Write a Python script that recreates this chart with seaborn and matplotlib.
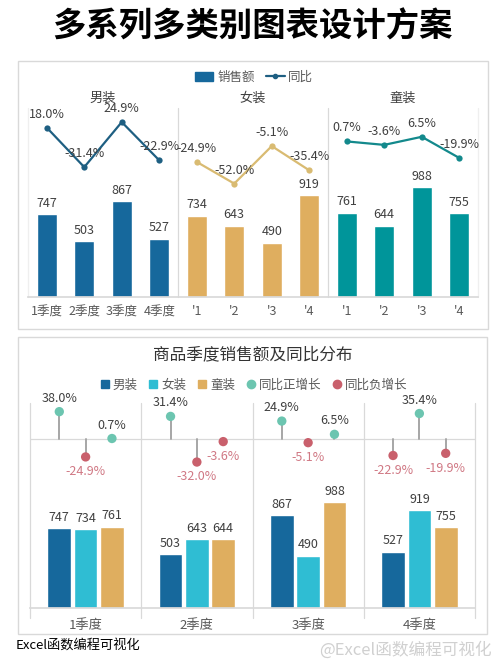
import numpy as np
import pandas as pd
import matplotlib
matplotlib.use("Agg")
import matplotlib.pyplot as plt
from matplotlib.patches import Rectangle, Patch
from matplotlib.lines import Line2D
import seaborn as sns

sns.set_theme(style="white")
plt.rcParams['font.family'] = ['Noto Sans CJK SC', 'DejaVu Sans']
plt.rcParams['axes.unicode_minus'] = False

# ---- data ----
categories = ["男装", "女装", "童装"]
quarters = ["1季度", "2季度", "3季度", "4季度"]
sales_men = [747, 503, 867, 527]
sales_women = [734, 643, 490, 919]
sales_kids = [761, 644, 988, 755]
yoy_men = [18.0, -31.4, 24.9, -22.9]
yoy_women = [-24.9, -52.0, -5.1, -35.4]
yoy_kids = [0.7, -3.6, 6.5, -19.9]
top_ticklabels = ["1季度", "2季度", "3季度", "4季度", "'1", "'2", "'3", "'4", "'1", "'2", "'3", "'4"]
# lollipop values as printed in the lower chart (quarter x category)
lolli_men = [38.0, 31.4, 24.9, -22.9]
lolli_women = [-24.9, -32.0, -5.1, 35.4]
lolli_kids = [0.7, -3.6, 6.5, -19.9]

bar_top_colors = {"男装": "#16689C", "女装": "#DFAE5F", "童装": "#00959A"}
line_colors = {"男装": "#1E5F82", "女装": "#D9BB72", "童装": "#13898C"}
bar_bot_colors = {"男装": "#16689C", "女装": "#2FBDD3", "童装": "#DFAE5F"}
pos_col, neg_col, neg_txt = "#6CC5B0", "#C9606C", "#D07884"
grid_col = "#D9D9D9"
txt_col = "#404040"

W, H = 500, 667
fig = plt.figure(figsize=(W / 100, H / 100), dpi=100)

def fx(px):
    return px / W

def fy(py):
    return 1 - py / H

# title
fig.text(0.505, fy(27), "多系列多类别图表设计方案", ha="center", va="center",
         fontsize=24, fontweight="bold", color="black")

# panel boxes
fig.patches.append(Rectangle((fx(18), fy(329)), fx(470), 268 / H, transform=fig.transFigure,
                             fill=False, edgecolor=grid_col, lw=1))
fig.patches.append(Rectangle((fx(18), fy(634)), fx(469), 297 / H, transform=fig.transFigure,
                             fill=False, edgecolor=grid_col, lw=1))

# ================= top chart =================
sales_all = sales_men + sales_women + sales_kids
yoy_all = {"男装": yoy_men, "女装": yoy_women, "童装": yoy_kids}
slots = [f"{c}-{i}" for c in categories for i in range(4)]
df_top = pd.DataFrame({"slot": slots, "sales": sales_all,
                       "cat": [c for c in categories for _ in range(4)]})

ax = fig.add_axes([fx(28), fy(297), fx(450), 199 / H])
sns.barplot(data=df_top, x="slot", y="sales", hue="cat", palette=bar_top_colors,
            dodge=False, width=0.54, legend=False, ax=ax, saturation=1)
ax.set_xlim(-0.5, 11.5)
ax.set_ylim(0, 1793)
for i, v in enumerate(sales_all):
    ax.annotate(f"{v}", (i, v), xytext=(0, 3), textcoords="offset points",
                ha="center", va="bottom", fontsize=9, color=txt_col)
ax.set_xticks(range(12))
ax.set_xticklabels(top_ticklabels, fontsize=9, color="#595959")
ax.tick_params(axis="x", length=0, pad=6)
ax.set_yticks([])
ax.set_xlabel("")
ax.set_ylabel("")
for s in ["top", "left", "right"]:
    ax.spines[s].set_visible(False)
ax.spines["bottom"].set_color(grid_col)
for xs in [3.5, 7.5]:
    ax.plot([xs, xs], [0, 1700], color=grid_col, lw=0.9, clip_on=False)
for xs in [-0.5, 11.5]:
    ax.plot([xs, xs], [0, 1700], color="#EFEFEF", lw=0.9, clip_on=False)

ax2 = ax.twinx()
ax2.set_ylim(-193.75, 55)
for k, c in enumerate(categories):
    xs = np.arange(4) + 4 * k
    sns.lineplot(x=xs, y=yoy_all[c], color=line_colors[c], lw=1.6, marker="o",
                 markersize=4.5, markeredgewidth=0, ax=ax2)
    for x, v in zip(xs, yoy_all[c]):
        ax2.annotate(f"{v:.1f}%", (x, v), xytext=(0, 5), textcoords="offset points",
                     ha="center", va="bottom", fontsize=9, color=txt_col)
    ax2.text(1.5 + 4 * k, 55, c, ha="center", va="center", fontsize=9.5, color=txt_col)
ax2.set_yticks([])
for s in ax2.spines.values():
    s.set_visible(False)

leg_handles = [Patch(color=bar_top_colors["男装"]),
               Line2D([0], [0], color=line_colors["男装"], lw=1.6, marker="o", markersize=3)]
fig.legend(leg_handles, ["销售额", "同比"], loc="center", bbox_to_anchor=(0.508, fy(77)),
           ncol=2, frameon=False, fontsize=9, handlelength=1.5, columnspacing=0.9,
           handletextpad=0.3, labelcolor="#595959")

# ================= bottom chart =================
df_bot = pd.DataFrame({
    "quarter": quarters * 3,
    "sales": sales_men + sales_women + sales_kids,
    "cat": [c for c in categories for _ in range(4)],
})
bx = fig.add_axes([fx(30), fy(608), fx(445), 205 / H])
width = 0.71
sns.barplot(data=df_bot, x="quarter", y="sales", hue="cat", hue_order=categories,
            palette=bar_bot_colors, width=width, gap=0.1, legend=False, ax=bx, saturation=1)
bx.set_xlim(-0.5, 3.5)
bx.set_ylim(0, 1916)
offs = np.array([-1, 0, 1]) * width / 3
for k, vals in enumerate([sales_men, sales_women, sales_kids]):
    for q, v in enumerate(vals):
        bx.annotate(f"{v}", (q + offs[k], v), xytext=(0, 3), textcoords="offset points",
                    ha="center", va="bottom", fontsize=9, color=txt_col)
bx.set_xticks(range(4))
bx.set_xticklabels(quarters, fontsize=9.5, color="#595959")
bx.tick_params(axis="x", length=0, pad=8)
bx.set_yticks([])
bx.set_xlabel("")
bx.set_ylabel("")
for s in ["top", "left", "right"]:
    bx.spines[s].set_visible(False)
bx.spines["bottom"].set_color(grid_col)
for xs in [-0.5, 0.5, 1.5, 2.5, 3.5]:
    bx.plot([xs, xs], [-95, 1916], color=grid_col, lw=0.9, clip_on=False)

bx2 = bx.twinx()
bx2.set_ylim(-234.7, 50)
bx2.axhline(0, color=grid_col, lw=0.9)
for k, vals in enumerate([lolli_men, lolli_women, lolli_kids]):
    for q, v in enumerate(vals):
        x = q + offs[k]
        bx2.plot([x, x], [0, v], color="#A6A6A6", lw=1.4, zorder=2)
        if v >= 0:
            bx2.annotate(f"{v:.1f}%", (x, v), xytext=(0, 5), textcoords="offset points",
                         ha="center", va="bottom", fontsize=9, color=txt_col)
        else:
            bx2.annotate(f"{v:.1f}%", (x, v), xytext=(0, -6), textcoords="offset points",
                         ha="center", va="top", fontsize=9, color=neg_txt)
    pts = pd.DataFrame({"x": np.arange(4) + offs[k], "v": vals})
    pts["sign"] = np.where(pts["v"] >= 0, "pos", "neg")
    sns.scatterplot(data=pts, x="x", y="v", hue="sign", palette={"pos": pos_col, "neg": neg_col},
                    s=45, edgecolor="none", legend=False, ax=bx2, zorder=3, clip_on=False)
bx2.set_yticks([])
bx2.set_xlabel("")
bx2.set_ylabel("")
for s in bx2.spines.values():
    s.set_visible(False)

fig.text(0.505, fy(355), "商品季度销售额及同比分布", ha="center", va="center",
         fontsize=12, color="#333333")
bot_handles = [Line2D([0], [0], ls="", marker="s", markersize=5.5, color=bar_bot_colors[c]) for c in categories]
bot_handles += [Line2D([0], [0], ls="", marker="o", markersize=6, color=pos_col),
                Line2D([0], [0], ls="", marker="o", markersize=6, color=neg_col)]
fig.legend(bot_handles, categories + ["同比正增长", "同比负增长"], loc="center",
           bbox_to_anchor=(0.508, fy(385)), ncol=5, frameon=False, fontsize=9,
           handlelength=0.7, handletextpad=0.3, columnspacing=0.9, labelcolor="#595959")

# footer
fig.text(fx(16), fy(645), "Excel函数编程可视化", ha="left", va="center", fontsize=9.5, color="black")
fig.text(fx(492), fy(650), "@Excel函数编程可视化", ha="right", va="center", fontsize=12,
         color="#D0D0D0")

fig.savefig("out.png", dpi=100)
